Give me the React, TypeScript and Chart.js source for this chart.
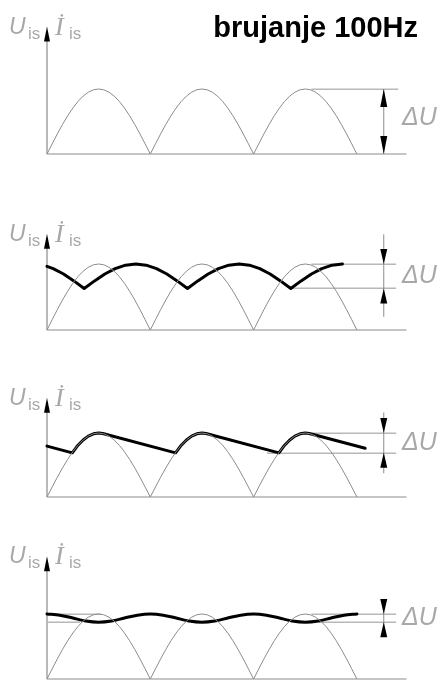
import React, { useEffect, useRef } from "react";
import { Chart, registerables } from "chart.js";

Chart.register(...registerables);

// Time axis in milliseconds: full-wave rectified 50 Hz gives one arch every 10 ms (100 Hz ripple).
const ARCH_START_MS = [0, 10, 20];
const ARCH_STEP_MS = 0.5;
// One rectified half-wave, relative to the peak voltage
const ARCH_SHAPE = [
  0, 0.156, 0.309, 0.454, 0.588, 0.707, 0.809, 0.891, 0.951, 0.988, 1,
  0.988, 0.951, 0.891, 0.809, 0.707, 0.588, 0.454, 0.309, 0.156, 0,
];

// Output with a series choke
const CHOKE_MS = [
  0, 0.6, 1.6, 2.6, 3.6, 4.6, 5.6, 6.6, 7.6, 8.6, 9.6, 10.6, 11.6, 12.6, 13.6,
  14.6, 15.6, 16.6, 17.6, 18.6, 19.6, 20.6, 21.6, 22.6, 23.6, 24.6, 25.6, 26.6, 27.6, 28.6,
];
const CHOKE_U = [
  0.965, 0.929, 0.848, 0.744, 0.63, 0.744, 0.848, 0.929, 0.982, 1, 0.982, 0.929, 0.848, 0.744, 0.63,
  0.744, 0.848, 0.929, 0.982, 1, 0.982, 0.929, 0.848, 0.744, 0.63, 0.744, 0.848, 0.929, 0.982, 1,
];

// Output with a reservoir capacitor
const CAP_MS = [
  0, 2.45, 3, 3.5, 4, 4.5, 5, 5.4, 12.45, 13, 13.5, 14, 14.5, 15, 15.4,
  22.45, 23, 23.5, 24, 24.5, 25, 25.4, 30.8,
];
const CAP_U = [
  0.795, 0.69, 0.809, 0.891, 0.951, 0.988, 1, 0.992, 0.69, 0.809, 0.891, 0.951, 0.988, 1, 0.992,
  0.69, 0.809, 0.891, 0.951, 0.988, 1, 0.992, 0.761,
];

// Output with an LC filter
const LC_MS = [
  0, 1.25, 2.5, 3.75, 5, 6.25, 7.5, 8.75, 10, 11.25, 12.5, 13.75, 15,
  16.25, 17.5, 18.75, 20, 21.25, 22.5, 23.75, 25, 26.25, 27.5, 28.75, 30,
];
const LC_U = [
  1, 0.982, 0.938, 0.893, 0.875, 0.893, 0.938, 0.982, 1, 0.982, 0.938, 0.893, 0.875,
  0.893, 0.938, 0.982, 1, 0.982, 0.938, 0.893, 0.875, 0.893, 0.938, 0.982, 1,
];

// Height of the y-axis arrow tip per panel
const AXIS_TIP_U = [1.96, 1.46, 1.55, 1.89];
// Ripple limits marked by the ΔU dimension per panel
const RIPPLE_HIGH_U = [1, 1, 1, 1];
const RIPPLE_LOW_U = [0, 0.63, 0.69, 0.875];
// Ends of the dimension line (top, bottom) per panel
const DIM_TOP_U = [1, 1.45, 1.32, 1.22];
const DIM_BOTTOM_U = [0, 0.2, 0.37, 0.66];
const DELTA_LABEL_U = [0.55, 0.815, 0.845, 0.94];
// Extension lines: [value, from ms, to ms]
const EXT_LINES: number[][][] = [
  [[1, 25.6, 34.0]],
  [[1, 25.6, 33.8], [0.63, 23.6, 33.8]],
  [[1, 25.6, 33.8], [0.69, 21.3, 33.8]],
  [[1, 25.6, 33.8], [0.875, 26.3, 33.8], [1, 0, 5.2], [0.875, 0, 3.2]],
];
const DIM_MS = 32.6;
const AXIS_END_MS = 34.8;

const TITLE = "brujanje 100Hz";

const GRAY_TEXT = "#a8a8a8";
const GRAY_LINE = "#8c8c8c";
const GRAY_EXT = "#b8b8b8";

type PanelLayout = { top: number; height: number; peakPx: number; basePx: number };
const LAYOUT: PanelLayout[] = [
  { top: 0, height: 180, peakPx: 89, basePx: 154 },
  { top: 180, height: 165, peakPx: 264, basePx: 330 },
  { top: 345, height: 175, peakPx: 433, basePx: 497 },
  { top: 520, height: 162, peakPx: 614, basePx: 679 },
];

const archPoints = () => {
  const pts: { x: number; y: number }[] = [];
  ARCH_START_MS.forEach((start, a) => {
    ARCH_SHAPE.forEach((u, i) => {
      if (a > 0 && i === 0) return;
      pts.push({ x: start + i * ARCH_STEP_MS, y: u });
    });
  });
  return pts;
};

const zip = (xs: number[], ys: number[]) => xs.map((x, i) => ({ x, y: ys[i] }));

const arrowHead = (ctx: CanvasRenderingContext2D, x: number, tipY: number, dir: number, len: number, w: number) => {
  // dir = -1 points up, +1 points down
  ctx.beginPath();
  ctx.moveTo(x, tipY);
  ctx.lineTo(x - w / 2, tipY - dir * len);
  ctx.lineTo(x + w / 2, tipY - dir * len);
  ctx.closePath();
  ctx.fill();
};

const makeOverlay = (panel: number) => ({
  id: "diagram" + panel,
  beforeDatasetsDraw(chart: any) {
    const { ctx, scales } = chart;
    const xs = scales.x;
    const ys = scales.y;
    const x0 = xs.getPixelForValue(0);
    const y0 = ys.getPixelForValue(0);
    const tipY = ys.getPixelForValue(AXIS_TIP_U[panel]);
    ctx.save();
    // axes
    ctx.strokeStyle = GRAY_LINE;
    ctx.lineWidth = 1.2;
    ctx.beginPath();
    ctx.moveTo(x0, y0);
    ctx.lineTo(xs.getPixelForValue(AXIS_END_MS), y0);
    ctx.moveTo(x0, y0);
    ctx.lineTo(x0, tipY + 6);
    ctx.stroke();
    // extension lines
    ctx.strokeStyle = GRAY_EXT;
    ctx.lineWidth = 1.5;
    EXT_LINES[panel].forEach(([u, a, b]) => {
      const y = Math.round(ys.getPixelForValue(u)) + 0.25;
      ctx.beginPath();
      ctx.moveTo(xs.getPixelForValue(a), y);
      ctx.lineTo(xs.getPixelForValue(b), y);
      ctx.stroke();
    });
    ctx.restore();
  },
  afterDatasetsDraw(chart: any) {
    const { ctx, scales } = chart;
    const xs = scales.x;
    const ys = scales.y;
    const x0 = xs.getPixelForValue(0);
    const tipY = ys.getPixelForValue(AXIS_TIP_U[panel]);
    ctx.save();
    ctx.fillStyle = "#000";
    arrowHead(ctx, x0, tipY, -1, 15, 6);

    // axis labels
    ctx.fillStyle = GRAY_TEXT;
    ctx.textBaseline = "alphabetic";
    ctx.textAlign = "left";
    ctx.font = "italic 23px 'Liberation Sans'";
    ctx.fillText("U", 9, tipY + 7);
    ctx.font = "17px 'Liberation Sans'";
    ctx.fillText("is", 28, tipY + 12);
    ctx.font = "italic 26px 'Liberation Serif'";
    ctx.fillText("İ", 55, tipY + 8);
    ctx.font = "17px 'Liberation Sans'";
    ctx.fillText("is", 69, tipY + 12);

    // ΔU dimension
    const dx = xs.getPixelForValue(DIM_MS);
    const hi = ys.getPixelForValue(RIPPLE_HIGH_U[panel]);
    const lo = ys.getPixelForValue(RIPPLE_LOW_U[panel]);
    const top = ys.getPixelForValue(DIM_TOP_U[panel]);
    const bottom = ys.getPixelForValue(DIM_BOTTOM_U[panel]);
    ctx.strokeStyle = GRAY_LINE;
    ctx.lineWidth = 1;
    ctx.beginPath();
    ctx.moveTo(dx, top);
    ctx.lineTo(dx, bottom);
    ctx.stroke();
    ctx.fillStyle = "#000";
    if (panel === 0) {
      arrowHead(ctx, dx, hi, -1, 18, 7);
      arrowHead(ctx, dx, lo, 1, 18, 7);
    } else {
      arrowHead(ctx, dx, hi, 1, 15, 7);
      arrowHead(ctx, dx, lo, -1, 15, 7);
    }
    ctx.fillStyle = GRAY_TEXT;
    ctx.font = "italic 25px 'Liberation Sans'";
    ctx.textBaseline = "middle";
    ctx.fillText("ΔU", 402, ys.getPixelForValue(DELTA_LABEL_U[panel]));

    if (panel === 0) {
      ctx.fillStyle = "#000";
      ctx.font = "bold 29px 'Liberation Sans'";
      ctx.textAlign = "right";
      ctx.textBaseline = "alphabetic";
      ctx.fillText(TITLE, 418, 37);
    }
    ctx.restore();
  },
});

const Panel = ({ index }: { index: number }) => {
  const ref = useRef<HTMLCanvasElement>(null);
  const lay = LAYOUT[index];
  useEffect(() => {
    if (!ref.current) return;
    const datasets: any[] = [
      {
        data: archPoints(),
        borderColor: GRAY_LINE,
        borderWidth: 1,
        pointRadius: 0,
        tension: 0,
        clip: false,
      },
    ];
    const thick = [null, zip(CHOKE_MS, CHOKE_U), zip(CAP_MS, CAP_U), zip(LC_MS, LC_U)][index];
    if (thick) {
      datasets.push({
        data: thick,
        borderColor: "#000",
        borderWidth: 3,
        pointRadius: 0,
        tension: 0,
        cubicInterpolationMode: index === 3 ? "monotone" : "default",
        borderJoinStyle: "round",
        borderCapStyle: "round",
        clip: false,
      });
    }
    const chart = new Chart(ref.current, {
      type: "line",
      data: { datasets },
      options: {
        animation: false,
        responsive: false,
        devicePixelRatio: 1,
        events: [],
        layout: {
          padding: {
            left: 47,
            right: 444 - 47 - AXIS_END_MS * 10.33,
            top: lay.peakPx - lay.top,
            bottom: lay.top + lay.height - lay.basePx,
          },
        },
        plugins: { legend: { display: false }, tooltip: { enabled: false }, title: { display: false } },
        scales: {
          x: { type: "linear", min: 0, max: AXIS_END_MS, display: false },
          y: { type: "linear", min: 0, max: 1, display: false },
        },
      },
      plugins: [makeOverlay(index)],
    });
    return () => chart.destroy();
  }, [index]);
  return (
    <canvas
      ref={ref}
      width={444}
      height={lay.height}
      style={{ position: "absolute", left: 0, top: lay.top, width: 444, height: lay.height }}
    />
  );
};

export default function App() {
  return (
    <div style={{ position: "absolute", left: 0, top: 0, width: 444, height: 682, background: "#fff", overflow: "hidden" }}>
      {LAYOUT.map((_, i) => (
        <Panel key={i} index={i} />
      ))}
    </div>
  );
}
